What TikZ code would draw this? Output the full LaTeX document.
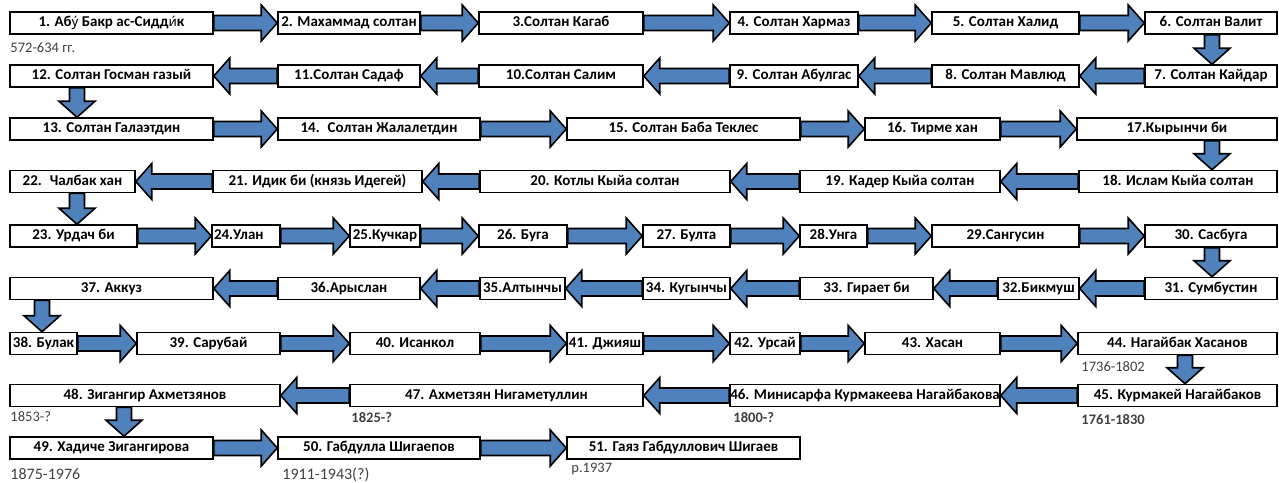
\documentclass[tikz,border=0pt]{standalone}
\usepackage{fontspec}
\setmainfont{Carlito}
\newfontfamily\accfont{Noto Sans}[Scale=MatchLowercase]
\usetikzlibrary{calc,positioning}

\definecolor{arrowblue}{RGB}{79,129,189}
\definecolor{dategray}{RGB}{64,64,64}

\tikzset{
  famnode/.style={draw=black, line width=1.5pt, fill=white, minimum height=22pt,
    inner sep=0pt, text height=10pt, text depth=3pt,
    font=\fontsize{15}{16}\selectfont\bfseries},
  linkarrow/.style={draw=black, line width=1.6pt, fill=arrowblue, line join=miter},
  datelbl/.style={inner sep=0pt, text=dategray, font=\fontsize{14.5}{16}\selectfont},
  datebold/.style={datelbl, font=\fontsize{14.5}{16}\selectfont\bfseries},
  datebig/.style={datelbl, font=\fontsize{16}{18}\selectfont}
}

% stressed letter
\newcommand{\stressed}[1]{{\accfont #1^^^^0301}}

% block arrow from #1 to #2
\newcommand{\famarrow}[2]{%
  \coordinate (hb) at ($(#2)!16pt!(#1)$);
  \filldraw[linkarrow] ($(#1)!7.5pt!90:(#2)$) -- ($(hb)!7.5pt!-90:(#1)$)
    -- ($(hb)!18pt!-90:(#1)$) -- (#2) -- ($(hb)!18pt!90:(#1)$)
    -- ($(hb)!7.5pt!90:(#1)$) -- ($(#1)!7.5pt!-90:(#2)$) -- cycle;
}

\begin{document}
\begin{tikzpicture}[x=1pt,y=-1pt]
\fill[white] (0,0) rectangle (1279,482);
\useasboundingbox (0,0) rectangle (1279,482);

%boxes
\foreach \i/\xa/\xb/\y/\txt in {
  1/10/213/23/{1. Аб\stressed{у} Бакр ас-Сидд\stressed{и}к}, 2/278/420/23/{2. Махаммад солтан},
  3/479/643/23/{3.Солтан Кагаб}, 4/730/858/23/{4. Солтан Хармаз},
  5/932/1079/23/{5. Солтан Халид}, 6/1145/1277/23/{6. Солтан Валит},
  7/1145/1277/76/{7. Солтан Кайдар}, 8/932/1079/76/{8. Солтан Мавлюд},
  9/730/858/76/{9. Солтан Абулгас}, 10/479/643/76/{10.Солтан Салим},
  11/278/420/76/{11.Солтан Садаф}, 12/10/213/76/{12. Солтан Госман газый},
  13/10/213/129/{13. Солтан Галаэтдин}, 14/278/480/129/{14.~ Солтан Жалалетдин},
  15/567/800/129/{15. Солтан Баба Теклес}, 16/865/1000/129/{16. Тирме хан},
  17/1077/1277/129/{17.Кырынчи би},
  18/1079/1277/181.5/{18. Ислам Кыйа солтан}, 19/800/1000/181.5/{19. Кадер Кыйа солтан},
  20/480/730/181.5/{20. Котлы Кыйа солтан}, 21/213/422/181.5/{21. Идик би (князь Идегей)},
  22/10/135/181.5/{22.~ Чалбак хан},
  23/10/137/236/{23. Урдач би}, 24/212/280/236/{\makebox[64pt][l]{24.Улан}}, 25/350/420/236/{25.Кучкар},
  26/479/567/236/{26. Буга}, 27/643/730/236/{27. Булта}, 28/800/867/236/{28.Унга},
  29/932/1079/236/{29.Сангусин}, 30/1145/1277/236/{30. Сасбуга},
  31/1145/1277/288.5/{31. Сумбустин}, 32/998/1079/288.5/{32.Бикмуш},
  33/800/933/288.5/{33. Гирает би}, 34/643/730/288.5/{34. Кугынчы},
  35/480/565/288.5/{35.Алтынчы}, 36/278/420/288.5/{36.Арыслан},
  37/10/213/288.5/{37. Аккуз},
  38/10/77/343.5/{38. Булак}, 39/137/280/343.5/{39. Сарубай}, 40/350/480/343.5/{40. Исанкол},
  41/567/643/343.5/{41. Джияш}, 42/730/800/343.5/{42. Урсай}, 43/865/1000/343.5/{43. Хасан},
  44/1078/1277/343.5/{44. Нагайбак Хасанов},
  45/1078/1277/395.5/{45. Курмакей Нагайбаков},
  46/730/1000/395.5/{46. Минисарфа Курмакеева Нагайбакова},
  47/350/643/395.5/{47. Ахметзян Нигаметуллин}, 48/10/280/395.5/{48. Зигангир Ахметзянов},
  49/10/213/448/{49. Хадиче Зигангирова}, 50/278/480/448/{50. Габдулла Шигаепов},
  51/567/800/448/{51. Гаяз Габдуллович Шигаев}} {
  \pgfmathsetmacro\cx{(\xa+\xb)/2}
  \pgfmathsetmacro\w{\xb-\xa}
  \node[famnode, minimum width=\w pt] (n\i) at (\cx,\y) {\txt};
}

%right arrows
\foreach \a in {1,2,3,4,5,13,14,15,16,23,24,25,26,27,28,29,38,39,40,41,42,43,49,50} {
  \pgfmathtruncatemacro\b{\a+1}
  \famarrow{n\a.east}{n\b.west}
}

%left arrows
\foreach \a in {7,8,9,10,11,18,19,20,21,31,32,33,34,35,36,45,46,47} {
  \pgfmathtruncatemacro\b{\a+1}
  \famarrow{n\a.west}{n\b.east}
}

%down arrows
\foreach \a/\b/\ax in {6/7/1212, 12/13/77, 17/18/1212, 22/23/77,
                       30/31/1212, 37/38/42, 44/45/1185, 48/49/124} {
  \coordinate (ua) at (n\a.south -| \ax,0);
  \coordinate (ub) at (n\b.north -| \ax,0);
  \famarrow{ua}{ub}
}

%dates
\foreach \i/\gx/\gy/\st/\txt in {1/1/8/datelbl/{572-634 гг.}, 44/4/6.5/datelbl/{1736-1802},
  48/1/4.5/datelbl/{1853-?}, 47/2/5/datebold/{1825-?}, 46/4/5/datebold/{1800-?},
  45/4/7/datebold/{1761-1830}, 49/1/9/datebig/{1875-1976},
  50/5/7.5/datebig/{1911-1943(?)}, 51/5/3/datelbl/{р.1937}} {
  \node[\st, below right=\gy pt and \gx pt of n\i.south west] (d\i) {\txt};
}
\end{tikzpicture}
\end{document}
